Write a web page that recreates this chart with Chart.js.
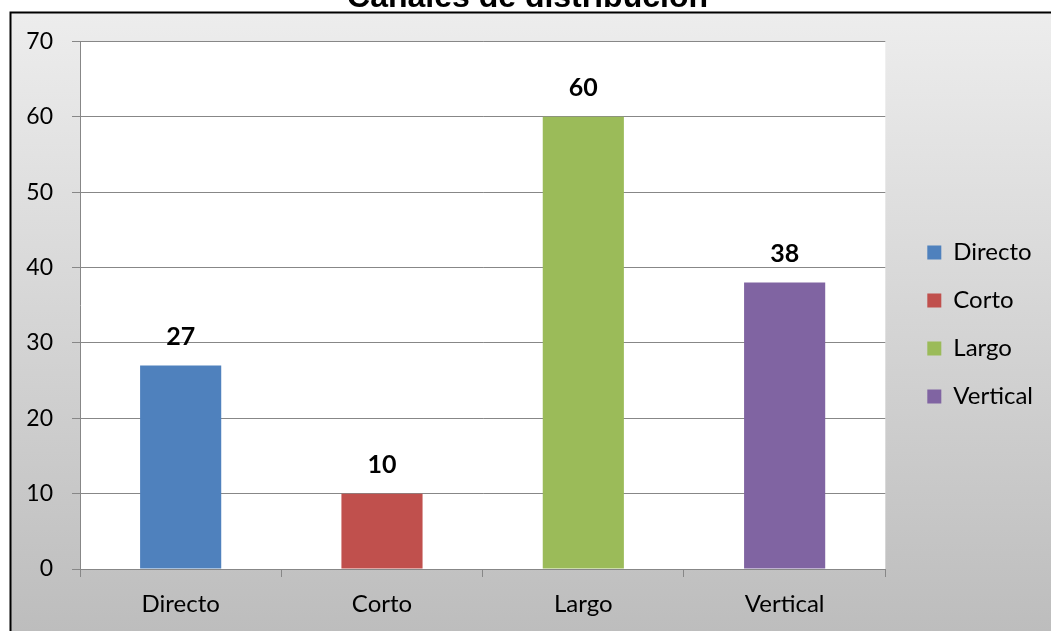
<!DOCTYPE html>
<html><head><meta charset="utf-8">
<script src="https://cdn.jsdelivr.net/npm/chart.js@4/dist/chart.umd.min.js"></script>
<style>
html,body{margin:0;padding:0;background:#fff;overflow:hidden;}
#wrap{position:absolute;left:0;top:-30px;width:1051px;height:661px;}
</style></head>
<body><div id="wrap"><canvas id="c" width="1051" height="661"></canvas></div>
<script>
const titleText = 'Canales de distribución';
const categories = ['Directo', 'Corto', 'Largo', 'Vertical'];
const values = [27, 10, 60, 38];
const barColors = ['#4f81bd', '#c0504d', '#9bbb59', '#8064a2'];
const yMin = 0, yMax = 70, yStep = 10;

const LEGEND_SHIFT = 18;
const TITLE_SHIFT = 15;

function shiftDraw(box, dx) {
  if (!box || box._shifted) return;
  const orig = box.draw.bind(box);
  box.draw = function () {
    this.left += dx; this.right += dx;
    orig();
    this.left -= dx; this.right -= dx;
  };
  box._shifted = true;
}

const bgPlugin = {
  id: 'bg',
  afterInit(chart) {
    shiftDraw(chart.legend, LEGEND_SHIFT);
    shiftDraw(chart.titleBlock, TITLE_SHIFT);
  },
  beforeDraw(chart) {
    const ctx = chart.ctx, w = chart.width, h = chart.height;
    ctx.save();
    ctx.fillStyle = '#ffffff';
    ctx.fillRect(0, 0, w, h);
    const top = 42.5, left = 10.5;
    const g = ctx.createLinearGradient(0, top, 0, h);
    g.addColorStop(0, '#ededed');
    g.addColorStop(1, '#bdbdbd');
    ctx.fillStyle = g;
    ctx.fillRect(left, top, w - left, h - top);
    ctx.strokeStyle = '#000';
    ctx.lineWidth = 2;
    ctx.beginPath();
    ctx.moveTo(left, h + 2);
    ctx.lineTo(left, top);
    ctx.lineTo(w + 2, top);
    ctx.stroke();
    const a = chart.chartArea;
    ctx.fillStyle = '#ffffff';
    ctx.fillRect(a.left, a.top, a.right - a.left, a.bottom - a.top);
    ctx.restore();
  }
};

const labelPlugin = {
  id: 'vals',
  afterDatasetsDraw(chart) {
    const ctx = chart.ctx;
    const meta = chart.getDatasetMeta(0);
    ctx.save();
    ctx.font = 'bold 25px Lato, "Liberation Sans", sans-serif';
    ctx.fillStyle = '#000';
    ctx.textAlign = 'center';
    ctx.textBaseline = 'middle';
    meta.data.forEach((el, i) => {
      ctx.fillText(String(values[i]), el.x, el.y - 29);
    });
    ctx.restore();
  }
};

new Chart(document.getElementById('c'), {
  type: 'bar',
  data: {
    labels: categories,
    datasets: [{
      label: 'Serie',
      data: values,
      backgroundColor: barColors,
      borderWidth: 0,
      barPercentage: 0.403,
      categoryPercentage: 1.0
    }]
  },
  options: {
    responsive: false,
    animation: false,
    devicePixelRatio: 1,
    layout: { padding: { left: 0, right: 26, top: 0, bottom: 0 } },
    plugins: {
      title: {
        display: true,
        text: titleText,
        color: '#000',
        font: { family: '"Liberation Sans", Arial, sans-serif', size: 32, weight: 'bold' },
        padding: { top: 9, bottom: 24 }
      },
      legend: {
        display: true,
        position: 'right',
        align: 'center',
        title: { display: true, text: ' ', font: { size: 10 }, padding: { top: 18, bottom: 18 } },
        labels: {
          color: '#000',
          font: { family: 'Lato, "Liberation Sans", sans-serif', size: 24 },
          boxWidth: 14,
          boxHeight: 14,
          padding: 24,
          generateLabels(chart) {
            return categories.map((c, i) => ({
              text: c, fillStyle: barColors[i], strokeStyle: barColors[i], fontColor: '#000',
              lineWidth: 0, hidden: false, index: i, datasetIndex: 0
            }));
          }
        }
      },
      tooltip: { enabled: false }
    },
    scales: {
      x: {
        offset: true,
        grid: { display: true, drawOnChartArea: false, drawTicks: true, tickLength: 8, color: '#878787', offset: true },
        border: { display: true, color: '#878787', width: 1 },
        ticks: { color: '#000', font: { family: 'Lato, "Liberation Sans", sans-serif', size: 24 }, padding: 13 },
        afterFit(scale) { scale.height = 62; }
      },
      y: {
        min: yMin, max: yMax,
        ticks: { stepSize: yStep, color: '#000', font: { family: 'Lato, "Liberation Sans", sans-serif', size: 23 }, padding: 19 },
        grid: { color: '#878787', tickLength: 8, drawTicks: true },
        border: { display: true, color: '#878787', width: 1 },
        afterFit(scale) { scale.width = 80; }
      }
    }
  },
  plugins: [bgPlugin, labelPlugin]
});
</script>
</body></html>
